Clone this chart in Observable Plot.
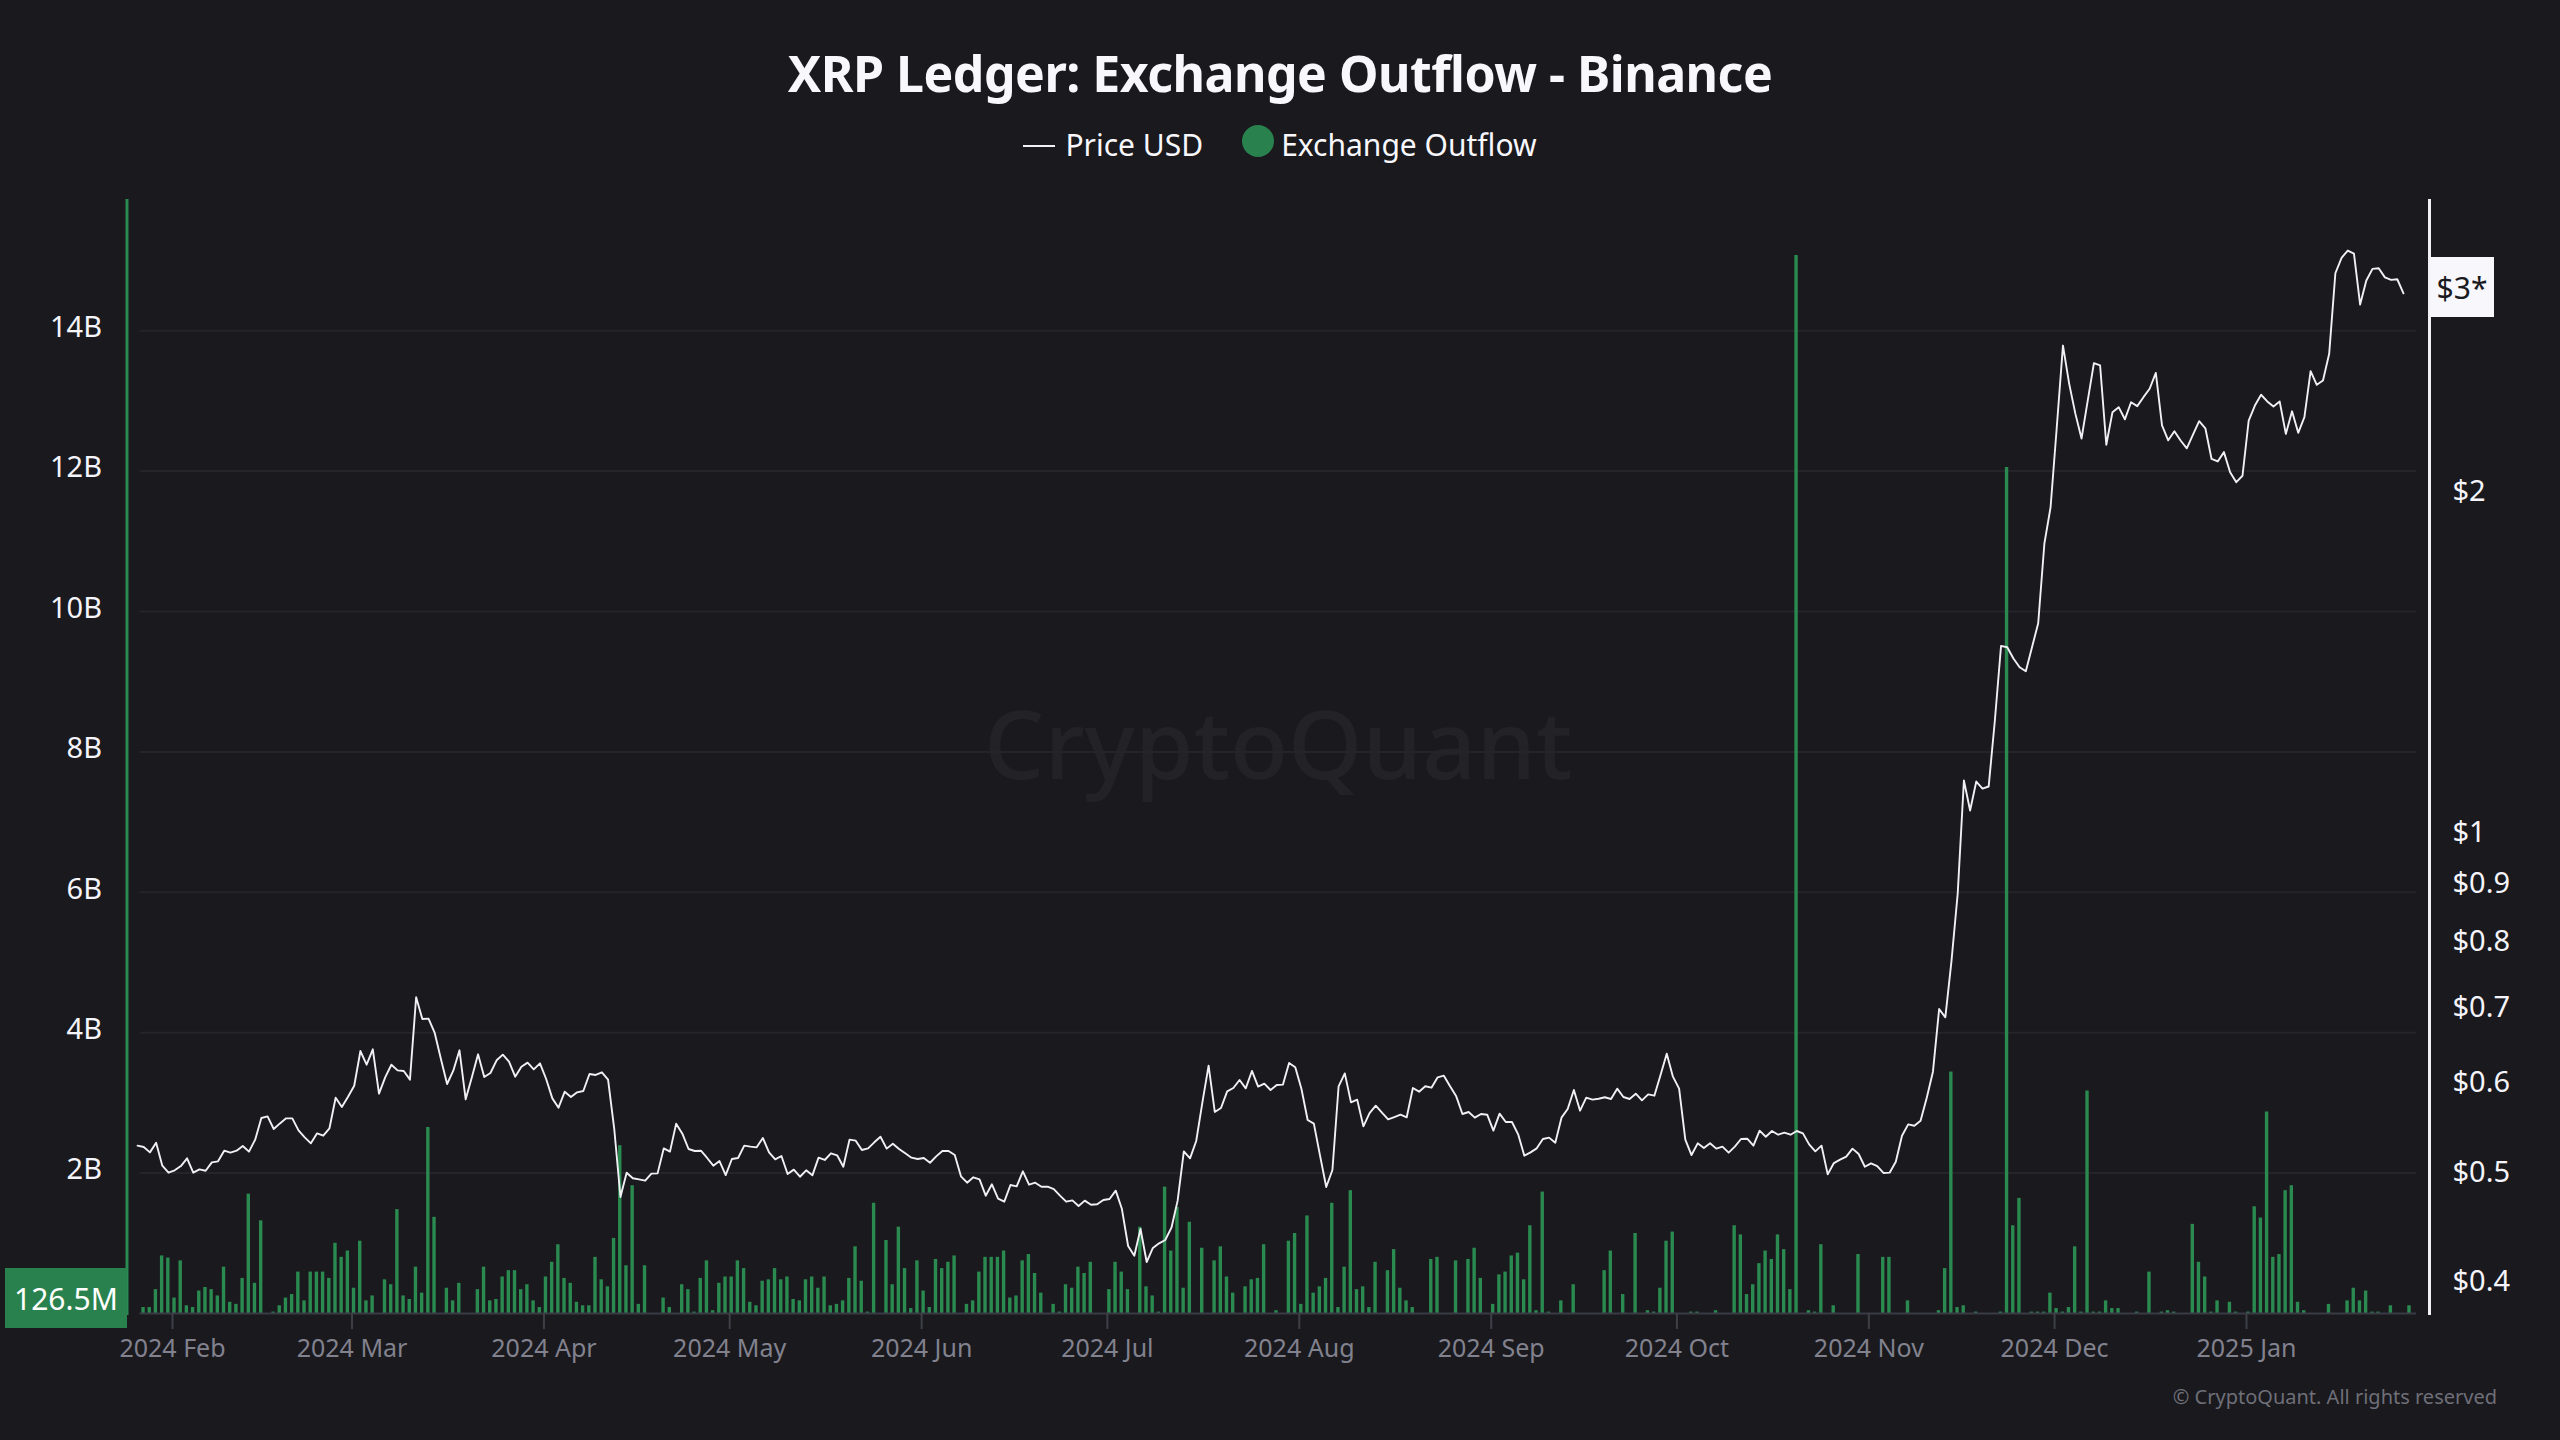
<!DOCTYPE html>
<html>
<head>
<meta charset="utf-8">
<title>XRP Ledger: Exchange Outflow - Binance</title>
<script src="https://cdn.jsdelivr.net/npm/d3@7"></script>
<script src="https://cdn.jsdelivr.net/npm/@observablehq/plot@0.6"></script>
<style>
  html, body { margin: 0; background: #19191e; }
  body { font-family: "Noto Sans", sans-serif; color: #f7f7fc; }
  #page { position: relative; width: 2560px; height: 1440px; overflow: hidden; }
  #header { height: 190px; text-align: center; }
  #title { font-size: 50px; font-weight: 700; letter-spacing: -0.5px; line-height: 60px; padding-top: 43px; }
  #legend { display: flex; justify-content: center; align-items: center; height: 40px; margin-top: 21px; font-size: 30px; }
  #legend .dash { width: 32px; height: 1.5px; background: #f0f0f5; margin-right: 10px; margin-top: 4px; }
  #legend .dot { width: 32px; height: 32px; border-radius: 50%; background: #29824e; margin: -6px 7px 0 39px; }
  #chart { position: relative; height: 1250px; }
  #chart svg { position: absolute; left: 0; top: 0; }
  .tag { position: absolute; display: flex; align-items: center; justify-content: center; font-size: 30px; box-sizing: border-box; }
  #lastOutflow { left: 5px; top: 1268px; width: 122px; height: 60px; background: #29824e; color: #fff; }
  #lastPrice { left: 2430px; top: 257px; width: 64px; height: 60px; background: #f7f7fc; color: #1a1a1f; }
  #copyright { position: absolute; right: 63px; top: 1383px; font-size: 20px; color: #6f6f78; }
</style>
</head>
<body>
<div id="page">
  <div id="header">
    <div id="title">XRP Ledger: Exchange Outflow - Binance</div>
    <div id="legend"><span class="dash"></span><span>Price USD</span><span class="dot"></span><span>Exchange Outflow</span></div>
  </div>
  <div id="chart"></div>
  <div class="tag" id="lastOutflow">126.5M</div>
  <div class="tag" id="lastPrice">$3*</div>
  <div id="copyright">© CryptoQuant. All rights reserved</div>
</div>
<script>
// daily values, 27 Jan 2024 to 27 Jan 2025
// exchange outflow in billions
const outflow = [
  .085,.085,.34,.82,.79,.22,.75,.11,.085,.32,
  .37,.34,.25,.66,.16,.13,.50,1.70,.43,1.32,
  0,.02,.11,.22,.27,.59,.18,.59,.59,.59,
  .50,1.00,.80,.89,.36,1.03,.18,.25,0,.48,
  .41,1.48,.25,.20,.66,.29,2.65,1.37,0,.36,
  .18,.43,0,0,.34,.66,.18,.20,.52,.61,
  .61,.34,.41,.18,.085,.52,.73,.98,.50,.43,
  .16,.11,.11,.80,.48,.38,1.07,2.39,.68,1.82,
  .13,.68,0,0,.22,.085,0,.41,.34,.02,
  .50,.75,.04,.43,.52,.52,.75,.64,.16,.11,
  .46,.48,.64,.48,.52,.20,.18,.48,.52,.36,
  .52,.11,.13,.18,.50,.95,.46,.02,1.57,0,
  1.04,.41,1.23,.64,.07,.75,.32,.085,.77,.64,
  .73,.82,0,.13,.18,.59,.80,.80,.80,.89,
  .22,.25,.75,.84,.57,.29,0,.13,.02,.41,
  .36,.66,.57,.73,0,0,.34,.73,.59,.34,
  0,1.23,.38,.25,.02,1.80,.89,1.51,.36,1.30,
  0,.93,0,.75,.95,.52,.29,0,.38,.48,
  .50,.98,0,.04,0,1.03,1.14,.13,1.39,.29,
  .38,.50,1.57,.085,.66,1.75,.34,.38,.085,.73,
  0,.61,.91,.36,.18,.085,0,0,.77,.80,
  0,0,.75,0,.77,.93,.50,0,.13,.55,
  .59,.82,.86,.48,1.25,.04,1.73,.02,0,.18,
  0,.41,0,0,0,0,.61,.89,0,.27,
  0,1.14,0,.04,.02,.36,1.03,1.16,0,0,
  .02,.02,0,0,.04,0,0,1.25,1.12,.27,
  .41,.71,.89,.77,1.12,.91,.34,15.07,0,.04,
  .02,.98,0,.11,0,0,0,.84,0,0,
  0,.80,.80,0,0,.18,0,0,0,0,
  .04,.64,3.44,.085,.11,0,.02,0,0,0,
  .02,12.05,1.25,1.64,0,.02,.02,.02,.29,.07,
  .02,.085,.95,.02,3.17,.02,.02,.18,.07,.07,
  0,0,.02,0,.59,0,.02,.04,.02,0,
  0,1.27,.73,.52,.02,.18,0,.16,.02,0,
  .02,1.52,1.36,2.87,.80,.84,1.75,1.82,.16,.04,
  0,0,0,.13,0,0,.18,.36,.18,.32,
  .02,.02,0,.11,0,0,.11
]
// price in USD
const price = [
  .5283,.5268,.5211,.5315,.5072,.5000,.5024,.5068,.5148,.5000,
  .5034,.5020,.5106,.5117,.5229,.5208,.5229,.5279,.5219,.5348,
  .5589,.5608,.5465,.5528,.5585,.5585,.5450,.5373,.5308,.5417,
  .5391,.5473,.5825,.5716,.5837,.5969,.6406,.6230,.6428,.5873,
  .6072,.6230,.6159,.6151,.6043,.7147,.6838,.6843,.6646,.6303,
  .5990,.6155,.6415,.5806,.6072,.6363,.6076,.6126,.6286,.6359,
  .6269,.6080,.6205,.6256,.6171,.6247,.6051,.5817,.5708,.5897,
  .5833,.5889,.5905,.6113,.6101,.6134,.6043,.5465,.4758,.5000,
  .4943,.4932,.4919,.4990,.4993,.5254,.5219,.5525,.5413,.5247,
  .5226,.5229,.5152,.5072,.5120,.4976,.5141,.5152,.5283,.5272,
  .5265,.5366,.5211,.5138,.5173,.4986,.5031,.4959,.5024,.4973,
  .5155,.5131,.5201,.5180,.5061,.5348,.5337,.5236,.5254,.5319,
  .5380,.5251,.5304,.5247,.5201,.5155,.5141,.5152,.5102,.5169,
  .5226,.5226,.5183,.4963,.4899,.4953,.4932,.4771,.4883,.4742,
  .4713,.4876,.4863,.5014,.4879,.4899,.4859,.4859,.4836,.4771,
  .4713,.4726,.4672,.4723,.4684,.4688,.4729,.4739,.4820,.4643,
  .4306,.4222,.4458,.4168,.4289,.4330,.4359,.4470,.4723,.5222,
  .5148,.5333,.5770,.6218,.5658,.5704,.5901,.5941,.6039,.5937,
  .6151,.5958,.5994,.5917,.5978,.5982,.6252,.6197,.5929,.5566,
  .5525,.5176,.4856,.5027,.5962,.6121,.5770,.5802,.5495,.5646,
  .5731,.5650,.5574,.5600,.5627,.5597,.5941,.5897,.5962,.5945,
  .6072,.6092,.5962,.5841,.5635,.5658,.5593,.5635,.5627,.5447,
  .5639,.5544,.5544,.5406,.5176,.5211,.5254,.5355,.5370,.5315,
  .5593,.5692,.5917,.5673,.5825,.5802,.5813,.5830,.5810,.5933,
  .5833,.5810,.5873,.5794,.5865,.5849,.6101,.6372,.6080,.5933,
  .5348,.5183,.5308,.5258,.5308,.5251,.5272,.5208,.5272,.5355,
  .5358,.5283,.5447,.5380,.5443,.5402,.5424,.5402,.5443,.5417,
  .5297,.5222,.5283,.4983,.5099,.5134,.5166,.5251,.5194,.5061,
  .5096,.5068,.4997,.5000,.5113,.5391,.5517,.5502,.5559,.5825,
  .6142,.6979,.6861,.7703,.8830,1.1115,1.0456,1.1092,1.0935,1.0980,
  1.2560,1.4624,1.4582,1.4250,1.4000,1.3888,1.4582,1.5314,1.8014,1.9396,
  2.2827,2.696,2.495,2.347,2.231,2.410,2.601,2.589,2.203,2.354,
  2.378,2.320,2.402,2.383,2.427,2.469,2.550,2.291,2.223,2.264,
  2.222,2.187,2.249,2.311,2.278,2.140,2.129,2.170,2.083,2.041,
  2.068,2.314,2.386,2.439,2.406,2.381,2.406,2.252,2.358,2.257,
  2.330,2.559,2.489,2.511,2.651,3.124,3.224,3.272,3.252,2.931,
  3.078,3.152,3.156,3.098,3.082,3.086,2.999
]
const outflowTicks = [2, 4, 6, 8, 10, 12, 14]
const priceTicks = [0.4, 0.5, 0.6, 0.7, 0.8, 0.9, 1, 2]
const monthTicks = ['2024-02-01','2024-03-01','2024-04-01','2024-05-01','2024-06-01','2024-07-01',
  '2024-08-01','2024-09-01','2024-10-01','2024-11-01','2024-12-01','2025-01-01'].map(d => new Date(d))

const days = d3.utcDay.range(new Date('2024-01-27'), new Date('2025-01-28'))
const xDomain = [new Date('2024-01-26T18:00Z'), new Date('2025-01-28T11:00Z')]

const size = {
  width: 2560,
  height: 1250,
  marginTop: 10,
  marginBottom: 127,
  marginLeft: 139.5,
  marginRight: 144,
  style: { fontFamily: '"Noto Sans", sans-serif', background: 'transparent' },
}
const green = '#2a8a50'

const bars = Plot.plot({
  ...size,
  x: { domain: xDomain },
  y: { domain: [0, 15.855] },
  marks: [
    Plot.text(['CryptoQuant'], { frameAnchor: 'middle', dy: -8, fontSize: 95, fontWeight: 500, fill: '#222227' }),
    Plot.gridY(outflowTicks, { stroke: '#24242a', strokeOpacity: 1, strokeWidth: 2 }),
    Plot.ruleX(outflow, { x: days, y: outflow, stroke: green, strokeWidth: 3.4, dx: 1.5 }),
    Plot.ruleY([0], { stroke: '#3a3a44', strokeWidth: 2 }),
    Plot.axisY({ ticks: outflowTicks, tickSize: 0, tickPadding: 38, tickFormat: d => d + 'B', fontSize: 29, dy: -3, fill: '#f4f4fa', label: null }),
    Plot.axisX({ ticks: monthTicks, tickSize: 16, tickPadding: 10, tickFormat: d3.utcFormat('%Y %b'), fontSize: 25, fill: '#82828e', stroke: '#3f3f48', strokeWidth: 2, label: null }),
    Plot.frame({ anchor: 'left', dx: -13, stroke: green, strokeWidth: 3 }),
    Plot.frame({ anchor: 'right', dx: 13, stroke: '#f0f0f5', strokeWidth: 3 }),
  ],
})

const line = Plot.plot({
  ...size,
  x: { domain: xDomain, axis: null },
  y: { type: 'log', domain: [0.3753, 3.623] },
  marks: [
    Plot.lineY(price, { x: days, y: price, stroke: '#f0f0f5', strokeWidth: 1.9, dx: -4 }),
    Plot.axisY({ anchor: 'right', ticks: priceTicks, tickSize: 0, tickPadding: 36, tickFormat: d => '$' + d, fontSize: 29, fill: '#f4f4fa', label: null }),
  ],
})

d3.select('#chart').append(() => bars)
d3.select('#chart').append(() => line)
</script>
</body>
</html>
